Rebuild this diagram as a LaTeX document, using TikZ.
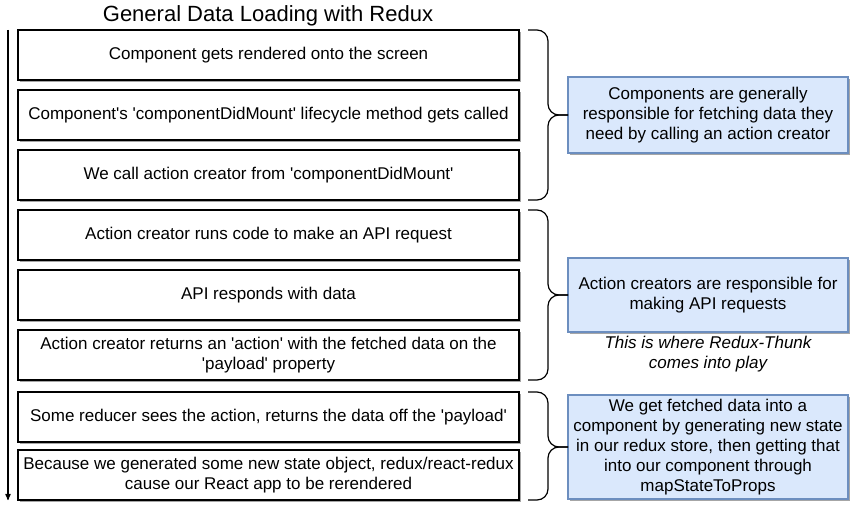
\documentclass[tikz,border=0pt]{standalone}
\usepackage{fontspec}
\setmainfont{Liberation Sans}
\usepackage{tikz}
\usetikzlibrary{arrows,positioning,shadows}

\definecolor{notefill}{HTML}{DAE8FC}
\definecolor{noteborder}{HTML}{6C8EBF}
\newcommand{\sq}{\textquotesingle}

\begin{document}
\begin{tikzpicture}[x=1pt,y=-1pt,>=stealth',node distance=10pt,
  line width=1.2pt,font=\fontsize{17}{20}\selectfont,
  stage node/.style={rectangle,draw,fill=white,minimum width=501pt,minimum height=50pt,
    align=center,inner sep=2pt,outer sep=0pt,
    drop shadow={shadow xshift=2pt,shadow yshift=-2pt,fill=black,opacity=0.35}},
  note node/.style={rectangle,draw=noteborder,fill=notefill,minimum width=280pt,
    align=center,inner sep=2pt,outer sep=0pt,
    drop shadow={shadow xshift=2pt,shadow yshift=-2pt,fill=black,opacity=0.35}},
  group brace/.style={rounded corners=11pt}]

  \useasboundingbox (0,0) rectangle (851,510);

  \node (title) at (268,16) {\fontsize{22}{24}\selectfont General Data Loading with Redux};

  \node[stage node] (1) at (268.5,55) {Component gets rendered onto the screen};
  \node[stage node] (2) [below=of 1] {Component\sq s \sq componentDidMount\sq{} lifecycle method gets called};
  \node[stage node] (3) [below=of 2] {We call action creator from \sq componentDidMount\sq};
  \node[stage node] (4) [below=of 3] {Action creator runs code to make an API request};
  \node[stage node] (5) [below=of 4] {API responds with data};
  \node[stage node] (6) [below=of 5] {Action creator returns an \sq action\sq{} with the fetched data on the\\\sq payload\sq{} property};
  \node[stage node] (7) [below=12pt of 6] {Some reducer sees the action, returns the data off the \sq payload\sq};
  \node[stage node] (8) [below=8pt of 7] {Because we generated some new state object, redux/react-redux\\cause our React app to be rerendered};

  \node[note node,minimum height=76pt] (a) at (708,115) {Components are generally\\responsible for fetching data they\\need by calling an action creator};
  \node[note node,minimum height=74pt] (b) at (708,295) {Action creators are responsible for\\making API requests};
  \node[font=\itshape\fontsize{17}{20}\selectfont,align=center] (thunk) [below=0pt of b] {This is where Redux-Thunk\\comes into play};
  \node[note node,minimum height=104pt] (c) at (708,447) {We get fetched data into a\\component by generating new state\\in our redux store, then getting that\\into our component through\\mapStateToProps};

  % groups
  \coordinate (spine) at (548,0);
  \draw[group brace] ([xshift=9pt]1.north east) -| (a.west -| spine) -- (a.west);
  \draw[group brace] ([xshift=9pt]3.south east) -| (a.west -| spine) -- (a.west);
  \draw[group brace] ([xshift=9pt]4.north east) -| (b.west -| spine) -- (b.west);
  \draw[group brace] ([xshift=9pt]6.south east) -| (b.west -| spine) -- (b.west);
  \draw[group brace] ([xshift=9pt]7.north east) -| (c.west -| spine) -- (c.west);
  \draw[group brace] ([xshift=9pt]8.south east) -| (c.west -| spine) -- (c.west);

  % flow
  \coordinate (start) at (8,30);
  \coordinate (finish) at (8,500);
  \draw[->] (start) -- (finish);
\end{tikzpicture}
\end{document}
